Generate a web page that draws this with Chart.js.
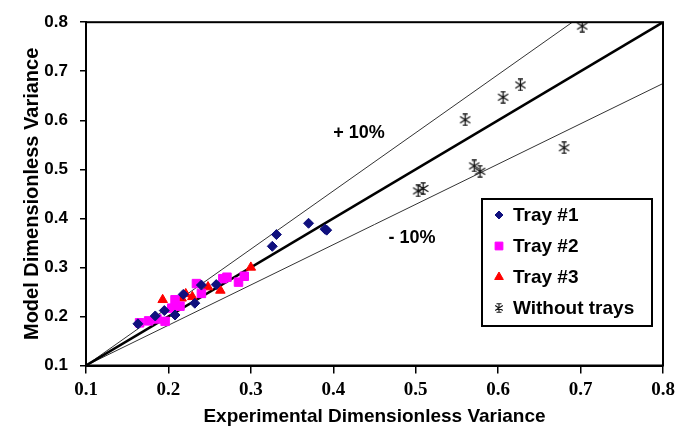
<!DOCTYPE html>
<html>
<head>
<meta charset="utf-8">
<script src="https://cdn.jsdelivr.net/npm/chart.js@4.4.1/dist/chart.umd.min.js"></script>
<style>
  html, body { margin: 0; padding: 0; background: #fff; }
  #wrap { width: 692px; height: 433px; position: relative; }
</style>
</head>
<body>
<div id="wrap"><canvas id="grafico"></canvas></div>
<script>
// ======= DATA =======
const tray1 = [[0.163,0.185],[0.184,0.201],[0.195,0.212],[0.208,0.203],[0.218,0.245],[0.232,0.227],
  [0.240,0.264],[0.258,0.265],[0.326,0.343],[0.331,0.367],[0.370,0.390],[0.390,0.378],[0.392,0.376]];
const tray2 = [[0.165,0.187],[0.176,0.191],[0.186,0.195],[0.196,0.190],[0.204,0.217],[0.214,0.221],
  [0.208,0.234],[0.234,0.267],[0.240,0.247],[0.266,0.277],[0.271,0.280],[0.285,0.270],[0.292,0.282]];
const tray3 = [[0.193,0.234],[0.216,0.237],[0.221,0.246],[0.229,0.240],[0.248,0.260],[0.263,0.253],[0.300,0.300]];
const noTrays = [[0.503,0.456],[0.509,0.461],[0.571,0.507],[0.578,0.496],[0.560,0.601],[0.606,0.647],
  [0.627,0.672],[0.680,0.544],[0.702,0.792]];

const parityLine = [[0.1,0.1],[0.8,0.8]];
const upperLine = [[0.1,0.1],[0.69,0.8]];
const lowerLine = [[0.1,0.1],[0.8,0.675]];

const xTicks = [0.1,0.2,0.3,0.4,0.5,0.6,0.7,0.8];
const yTicks = [0.1,0.2,0.3,0.4,0.5,0.6,0.7,0.8];

const seriesLabels = ["Tray #1","Tray #2","Tray #3","Without trays"];
const bandLabels = ["+ 10%","- 10%"];
const bandLabelAt = [[0.40,0.573],[0.467,0.36]];

const SANS = "'Liberation Sans', Arial, sans-serif";
const SERIF = "'Liberation Serif', 'Times New Roman', serif";

const pts = arr => arr.map(([x, y]) => ({ x, y }));

// ======= STAR MARKER =======
function makeStar(size, lw) {
  const c = document.createElement("canvas");
  c.width = size; c.height = size;
  const g = c.getContext("2d");
  const m = size / 2, r = size / 2 - 0.5;
  g.strokeStyle = "#111";
  g.lineWidth = lw;
  g.beginPath();
  g.moveTo(m, 0.5); g.lineTo(m, size - 0.5);
  g.moveTo(m - r * 0.85, m - r * 0.55); g.lineTo(m + r * 0.85, m + r * 0.55);
  g.moveTo(m - r * 0.85, m + r * 0.55); g.lineTo(m + r * 0.85, m - r * 0.55);
  g.moveTo(m - 2.5, 0.8); g.lineTo(m + 2.5, 0.8);
  g.moveTo(m - 2.5, size - 0.8); g.lineTo(m + 2.5, size - 0.8);
  g.stroke();
  return c;
}
const starBig = makeStar(13, 1.3);
const starSmall = makeStar(10, 1.1);

// ======= PLUGINS =======
const frame = {
  id: "frame",
  afterDatasetsDraw(chart) {
    const { ctx, chartArea: a } = chart;
    ctx.save();
    ctx.strokeStyle = "#000";
    ctx.lineWidth = 2;
    ctx.strokeRect(a.left, a.top, a.right - a.left, a.bottom - a.top);
    ctx.restore();
  }
};

const bandText = {
  id: "bandText",
  afterDatasetsDraw(chart) {
    const { ctx, scales: { x, y } } = chart;
    ctx.save();
    ctx.fillStyle = "#000";
    ctx.font = "bold 18px " + SANS;
    ctx.textBaseline = "middle";
    ctx.textAlign = "left";
    bandLabels.forEach((t, i) => {
      ctx.fillText(t, x.getPixelForValue(bandLabelAt[i][0]), y.getPixelForValue(bandLabelAt[i][1]));
    });
    ctx.restore();
  }
};

const innerLegend = {
  id: "innerLegend",
  afterDraw(chart) {
    const { ctx } = chart;
    const bx = 482, by = 199, bw = 170, bh = 127;
    ctx.save();
    ctx.fillStyle = "#fff";
    ctx.fillRect(bx, by, bw, bh);
    ctx.lineWidth = 2;
    ctx.strokeStyle = "#000";
    ctx.strokeRect(bx, by, bw, bh);
    ctx.font = "bold 19px " + SANS;
    ctx.textBaseline = "middle";
    chart.data.datasets.filter(d => d.label).forEach((d, i) => {
      const cy = by + 16 + i * 31;
      ctx.fillStyle = d.backgroundColor;
      ctx.strokeStyle = d.borderColor;
      ctx.lineWidth = 1;
      Chart.helpers.drawPoint(ctx, {
        pointStyle: d.legendStyle || d.pointStyle,
        radius: d.legendRadius,
        rotation: 0,
        borderWidth: 1
      }, bx + 17, cy);
      ctx.fillStyle = "#000";
      ctx.fillText(d.label, bx + 31, cy + 1);
    });
    ctx.restore();
  }
};

// ======= CHART =======
const ctx = document.getElementById("grafico");
new Chart(ctx, {
  type: "scatter",
  data: {
    datasets: [
      { label: seriesLabels[0], data: pts(tray1), pointStyle: "rectRot", pointRadius: 5, legendRadius: 4,
        backgroundColor: "#10107e", borderColor: "#10107e", borderWidth: 1 },
      { label: seriesLabels[1], data: pts(tray2), pointStyle: "rect", pointRadius: 6, legendRadius: 5.5,
        backgroundColor: "#ff00ff", borderColor: "#ff00ff", borderWidth: 1 },
      { label: seriesLabels[2], data: pts(tray3), pointStyle: "triangle", pointRadius: 5.5, legendRadius: 5,
        backgroundColor: "#ff0000", borderColor: "#ff0000", borderWidth: 1 },
      { label: seriesLabels[3], data: pts(noTrays), pointStyle: starBig, legendStyle: starSmall, pointRadius: 6, legendRadius: 5,
        backgroundColor: "#111", borderColor: "#111", borderWidth: 1 },
      { data: pts(parityLine), showLine: true, pointRadius: 0, borderColor: "#000", borderWidth: 2.5 },
      { data: pts(upperLine), showLine: true, pointRadius: 0, borderColor: "#333", borderWidth: 1 },
      { data: pts(lowerLine), showLine: true, pointRadius: 0, borderColor: "#333", borderWidth: 1 }
    ]
  },
  options: {
    responsive: true,
    maintainAspectRatio: false,
    animation: false,
    layout: { padding: { top: 14, right: 29, left: 0, bottom: 0 } },
    plugins: { legend: { display: false }, tooltip: { enabled: false } },
    scales: {
      x: {
        type: "linear", min: 0.1, max: 0.8,
        afterBuildTicks: s => { s.ticks = xTicks.map(v => ({ value: v })); },
        afterFit: s => { s.height = 67.5; },
        ticks: { color: "#000", font: { family: SERIF, size: 19, weight: "bold" }, padding: 5,
          callback: v => v.toFixed(1), maxRotation: 0 },
        grid: { drawOnChartArea: false, color: "#000", lineWidth: 1.5, tickLength: 8 },
        border: { display: true, color: "#000", width: 2 },
        title: { display: true, text: "Experimental Dimensionless Variance", color: "#000",
          font: { family: SANS, size: 19, weight: "bold" }, padding: { top: 0, bottom: 5 } }
      },
      y: {
        type: "linear", min: 0.1, max: 0.8,
        afterBuildTicks: s => { s.ticks = yTicks.map(v => ({ value: v })); },
        afterFit: s => { s.width = 86; },
        ticks: { color: "#000", font: { family: SANS, size: 17, weight: "bold" }, padding: 12,
          callback: v => v.toFixed(1) },
        grid: { drawOnChartArea: false, color: "#000", lineWidth: 1.5, tickLength: 6 },
        border: { display: true, color: "#000", width: 2 },
        title: { display: true, text: "Model Dimensionless Variance", color: "#000",
          font: { family: SANS, size: 20, weight: "bold" }, padding: { top: 20, bottom: 0 } }
      }
    }
  },
  plugins: [frame, bandText, innerLegend]
});
</script>
</body>
</html>
